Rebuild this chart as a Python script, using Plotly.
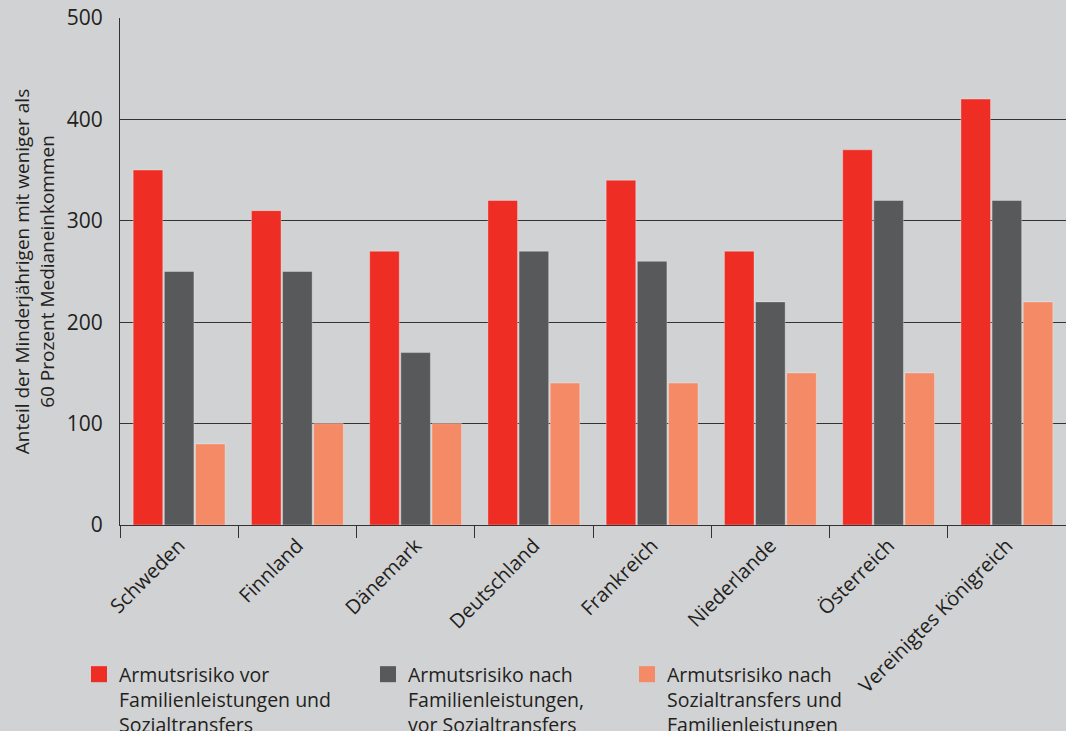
import plotly.graph_objects as go

# Anteil der Minderjaehrigen unter 60 % Medianeinkommen
countries = ["Schweden", "Finnland", "Dänemark", "Deutschland", "Frankreich",
             "Niederlande", "Österreich", "Vereinigtes Königreich"]
vor_alles = [350, 310, 270, 320, 340, 270, 370, 420]
nach_familie = [250, 250, 170, 270, 260, 220, 320, 320]
nach_alles = [80, 100, 100, 140, 140, 150, 150, 220]

names = ["Armutsrisiko vor<br>Familienleistungen und<br>Sozialtransfers",
         "Armutsrisiko nach<br>Familienleistungen,<br>vor Sozialtransfers",
         "Armutsrisiko nach<br>Sozialtransfers und<br>Familienleistungen"]
colors = ["#ee2d24", "#58595b", "#f58a67"]
series = [vor_alles, nach_familie, nach_alles]
legend_ids = ["legend", "legend2", "legend3"]

FONT = "Open Sans"
BG = "#d1d2d4"
TEXT = "#231f20"

fig = go.Figure()
for vals, col in zip(series, colors):
    fig.add_trace(go.Bar(
        x=countries, y=vals, marker_color=col,
        marker_line=dict(color="rgba(255,255,255,0.3)", width=1),
        showlegend=False,
    ))

# legend entries (bigger square symbols than the default bar icon)
for name, col, lg in zip(names, colors, legend_ids):
    fig.add_trace(go.Scatter(
        x=[countries[0]], y=[None], mode="markers", name=name, legend=lg,
        marker=dict(symbol="square", size=16, color=col),
        hoverinfo="skip",
    ))

legend_base = dict(yanchor="top", xanchor="left", valign="top",
                   bgcolor="rgba(0,0,0,0)",
                   font=dict(family=FONT, size=19.5, color=TEXT),
                   itemsizing="trace", y=(525 - 655) / 507)

fig.update_layout(
    width=1066, height=731,
    paper_bgcolor=BG, plot_bgcolor=BG,
    margin=dict(l=120, r=0, t=18, b=206, autoexpand=False),
    barmode="group", bargap=0.21, bargroupgap=0.05,
    font=dict(family=FONT, color=TEXT),
    legend=dict(legend_base, x=(79 - 120) / 946),
    legend2=dict(legend_base, x=(368 - 120) / 946),
    legend3=dict(legend_base, x=(627 - 120) / 946),
)

fig.update_yaxes(
    range=[0, 500], dtick=100, showgrid=True, gridcolor="#333333", gridwidth=1,
    zeroline=False, showline=True, linecolor="#333333", linewidth=1,
    ticks="", ticklabelstandoff=12, automargin=False,
    tickfont=dict(family=FONT, size=21, color=TEXT),
    title=dict(text="Anteil der Minderjährigen mit weniger als<br>60 Prozent Medianeinkommen",
               font=dict(family=FONT, size=19, color=TEXT), standoff=7),
)
fig.update_xaxes(
    type="category", categoryorder="array", categoryarray=countries,
    showline=True, linecolor="#333333", linewidth=1, automargin=False,
    ticks="outside", tickson="boundaries", ticklen=12, tickcolor="#333333",
    tickangle=-45, tickfont=dict(family=FONT, size=20, color=TEXT),
)

fig.write_html("out.html", config={"displayModeBar": False},
               post_script="document.body.style.margin='0';")
